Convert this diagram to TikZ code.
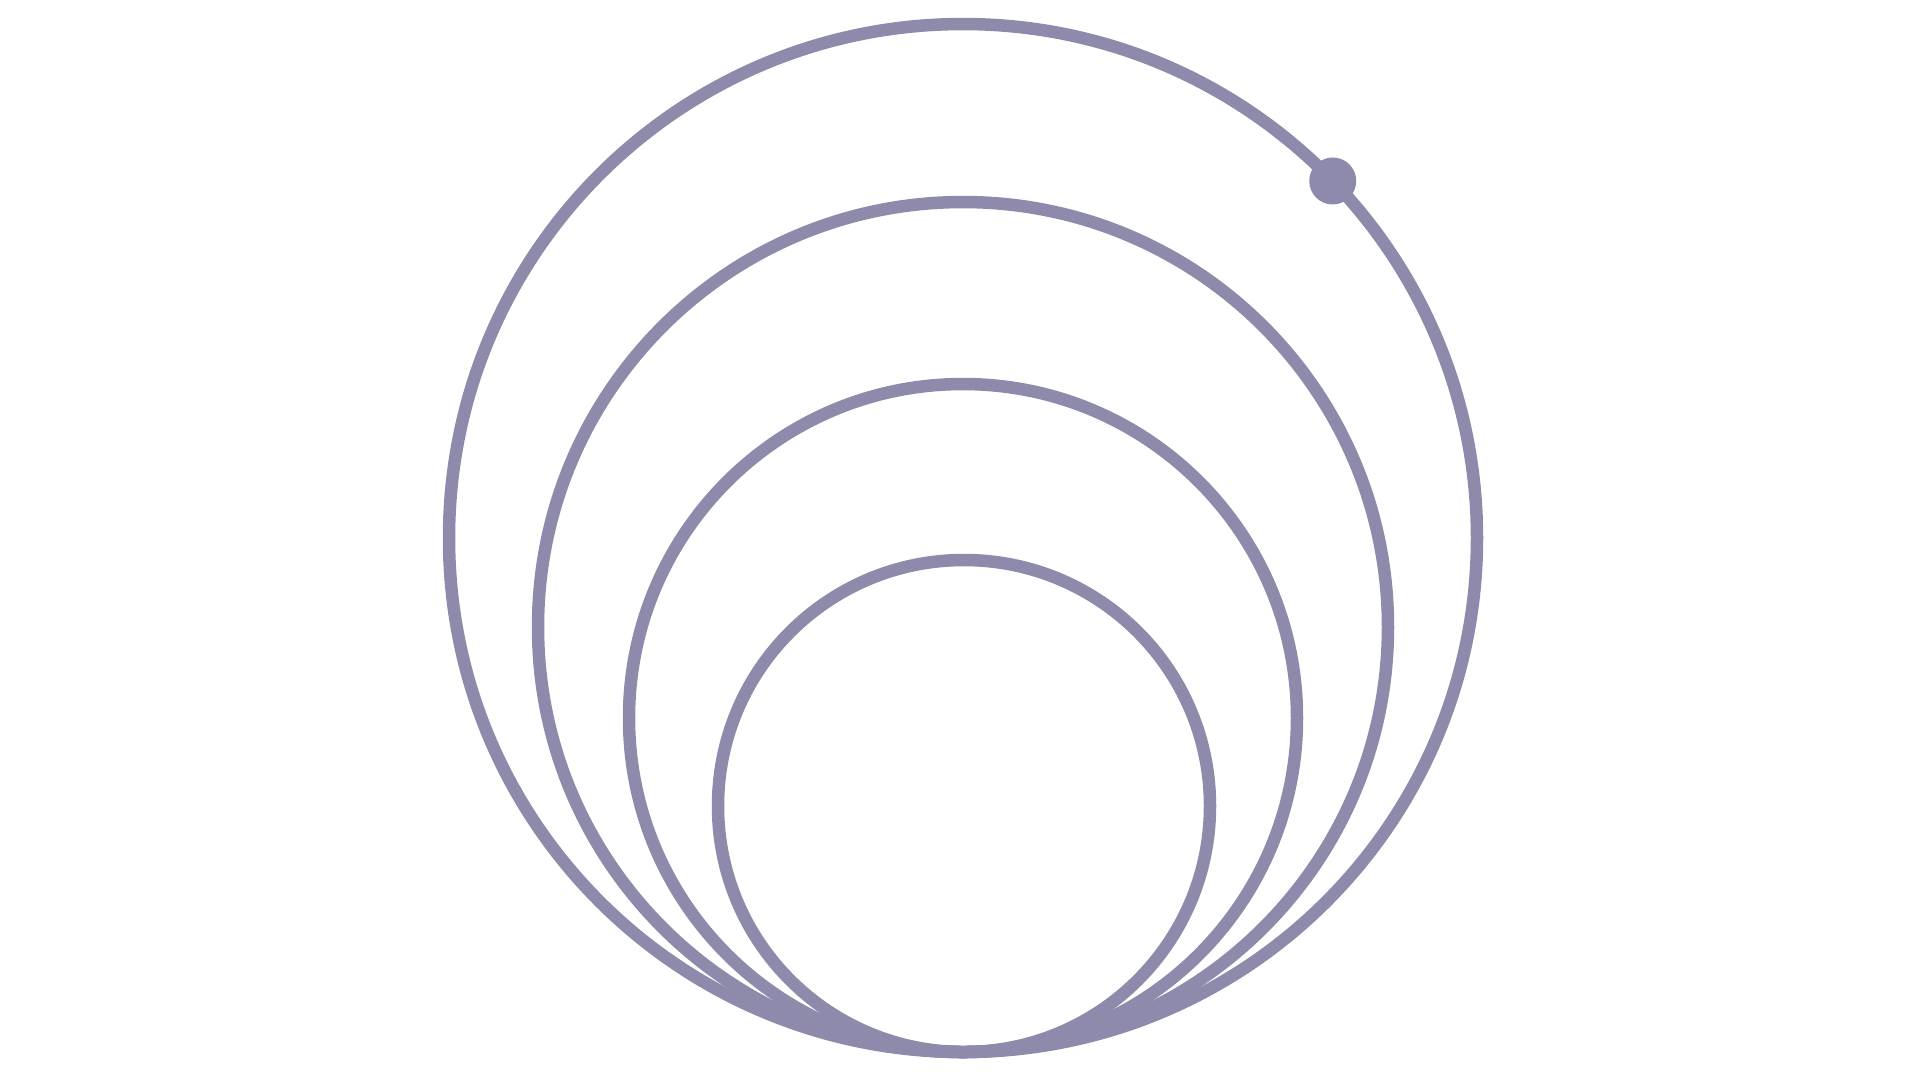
\documentclass[tikz,border=0pt]{standalone}
\definecolor{ringcol}{RGB}{142,138,172}
\tikzset{
  ring/.style={circle, draw=ringcol, line width=1.25mm, inner sep=0pt, outer sep=0pt},
  planet/.style={circle, fill=ringcol, inner sep=0pt, outer sep=0pt, minimum size=4.7mm}
}
\begin{document}
\begin{tikzpicture}[x=0.1mm,y=0.1mm,yscale=-1,xscale=1]
    %set diagram left start at 0, and has height of 1080
    \useasboundingbox (0,0) rectangle (1920,1080);
    %Shape: Circle [id:outer]
    \node[ring, minimum size=102.8mm] (orbitA) at (963,538) {};
    %Shape: Circle [id:second]
    \node[ring, minimum size=85mm] (orbitB) at (963,627) {};
    %Shape: Circle [id:third]
    \node[ring, minimum size=66.8mm] (orbitC) at (963,718) {};
    %Shape: Circle [id:inner]
    \node[ring, minimum size=49.2mm] (orbitD) at (964,806) {};
    %Shape: Dot on outer circle
    \node[planet] (moon) at (orbitA.44.6) {};
\end{tikzpicture}
\end{document}
